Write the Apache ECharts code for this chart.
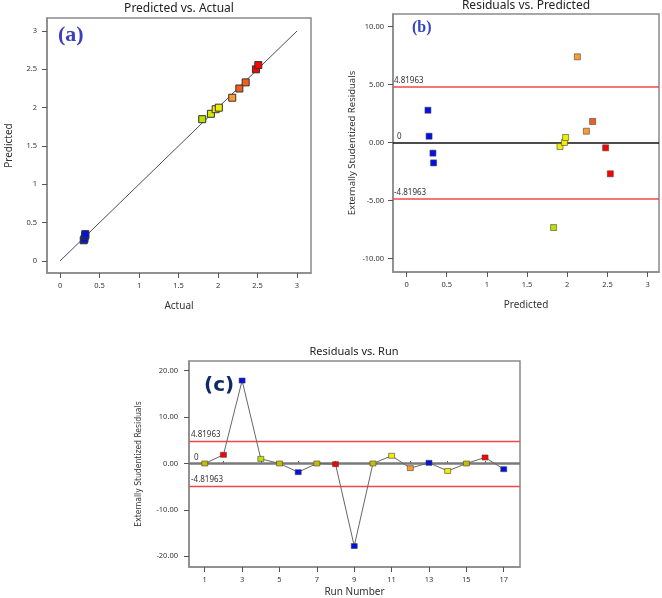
<!DOCTYPE html>
<html>
<head>
<meta charset="utf-8">
<script src="https://cdn.jsdelivr.net/npm/echarts@6/dist/echarts.min.js"></script>
<style>
html,body{margin:0;padding:0;background:#fff;}
#chart{width:662px;height:598px;}
</style>
</head>
<body>
<div id="chart"></div>
<script>
// ---------- DATA ----------
// Panel (a): Predicted vs. Actual
const aActual    = [0.30, 0.31, 0.32, 0.32, 1.80, 1.91, 1.97, 2.01, 2.18, 2.27, 2.35, 2.48, 2.51];
const aPredicted = [0.27, 0.29, 0.33, 0.35, 1.85, 1.92, 1.98, 2.00, 2.13, 2.25, 2.33, 2.50, 2.556];
const aGroup     = [0, 0, 0, 0, 1, 2, 3, 3, 4, 5, 5, 6, 6];
const diagLine   = [[0, 0], [3, 3]];
const aTicks     = [0, 0.5, 1, 1.5, 2, 2.5, 3];

// Panel (b): Residuals vs. Predicted
const bPredicted = [0.266, 0.28, 0.328, 0.336, 1.83, 1.91, 1.965, 1.98, 2.126, 2.238, 2.316, 2.478, 2.536];
const bResidual  = [2.78, 0.54, -0.92, -1.76, -7.33, -0.35, 0.0, 0.43, 7.38, 0.97, 1.81, -0.46, -2.70];
const bGroup     = [0, 0, 0, 0, 1, 3, 3, 3, 4, 4, 5, 6, 6];
const bXTicks    = [0, 0.5, 1, 1.5, 2, 2.5, 3];
const bYTicks    = [-10, -5, 0, 5, 10];

// Panel (c): Residuals vs. Run
const cRun       = [1, 2, 3, 4, 5, 6, 7, 8, 9, 10, 11, 12, 13, 14, 15, 16, 17];
const cResidual  = [0, 1.87, 17.88, 1.0, 0, -1.87, 0, -0.15, -17.8, 0, 1.66, -1.0, 0.14, -1.6, 0, 1.3, -1.23];
const cGroup     = [7, 6, 0, 1, 7, 0, 7, 6, 0, 7, 3, 4, 0, 3, 7, 6, 0];
const cXLabels   = [1, 3, 5, 7, 9, 11, 13, 15, 17];
const cXMinor    = [2, 4, 6, 8, 10, 12, 14, 16];
const cYTicks    = [-20, -10, 0, 10, 20];

const limitValue = 4.81963;
const limitLabels = ['4.81963', '-4.81963', '0'];

const titles = ['Predicted vs. Actual', 'Residuals vs. Predicted', 'Residuals vs. Run'];
const panelTags = ['(a)', '(b)', '(c)'];
const axisNames = {
  aX: 'Actual', aY: 'Predicted',
  bX: 'Predicted', bY: 'Externally Studentized Residuals',
  cX: 'Run Number', cY: 'Externally Studentized Residuals'
};

// ---------- STYLE ----------
const palette = ['#0010e8', '#b8e000', '#d4e400', '#f0ee00', '#ff9a30', '#f0601a', '#ff0000', '#c8bc00'];
const FONT = '"Noto Sans", "Open Sans", sans-serif';
const frame = '#8a8a8a';

function vAxisCommon(extra) {
  return Object.assign({
    type: 'value',
    axisLine: { show: true, onZero: false, lineStyle: { color: frame, width: 1.5 } },
    axisTick: { show: true, length: 5, lineStyle: { color: '#555', width: 1 } },
    axisLabel: { fontSize: 7.5, color: '#333', fontFamily: FONT },
    splitLine: { show: false },
    nameLocation: 'middle',
    nameTextStyle: { fontSize: 10, color: '#333', fontFamily: FONT }
  }, extra);
}

function colorBy(groups) {
  return function (p) { return palette[groups[p.dataIndex]]; };
}

const option = {
  backgroundColor: '#fff',
  animation: false,
  title: [
    { text: titles[0], left: 179, top: 3, textAlign: 'center', padding: 0,
      textStyle: { fontSize: 12, fontWeight: 'normal', color: '#222', fontFamily: FONT } },
    { text: titles[1], left: 526, top: 0, textAlign: 'center', padding: 0,
      textStyle: { fontSize: 12, fontWeight: 'normal', color: '#222', fontFamily: FONT } },
    { text: titles[2], left: 354, top: 346, textAlign: 'center', padding: 0,
      textStyle: { fontSize: 11, fontWeight: 'normal', color: '#222', fontFamily: FONT } },
    { text: panelTags[0], left: 58, top: 24, padding: 0,
      textStyle: { fontSize: 22, fontWeight: 'bold', color: '#3c3fbe', fontFamily: '"Liberation Serif", "DejaVu Serif", serif' } },
    { text: panelTags[1], left: 412, top: 20, padding: 0,
      textStyle: { fontSize: 16, fontWeight: 'bold', color: '#3444c4', fontFamily: '"Liberation Serif", "DejaVu Serif", serif' } },
    { text: panelTags[2], left: 204, top: 376, padding: 0,
      textStyle: { fontSize: 20, fontWeight: 'bold', color: '#0f2a66', fontFamily: '"DejaVu Sans", sans-serif' } }
  ],
  grid: [
    { left: 47, top: 18, width: 264, height: 255, show: true, borderColor: frame, borderWidth: 1.5, backgroundColor: '#fff', containLabel: false },
    { left: 393, top: 14, width: 266, height: 258, show: true, borderColor: frame, borderWidth: 1.5, backgroundColor: '#fff', containLabel: false },
    { left: 189, top: 361, width: 331, height: 206, show: true, borderColor: frame, borderWidth: 1.5, backgroundColor: '#fff', containLabel: false }
  ],
  xAxis: [
    vAxisCommon({ gridIndex: 0, min: -0.165, max: 3.177,
      axisLabel: { customValues: aTicks, fontSize: 7.5, color: '#333', margin: 9, fontFamily: FONT },
      axisTick: { customValues: aTicks, length: 5, lineStyle: { color: '#555' } },
      name: axisNames.aX, nameGap: 28 }),
    vAxisCommon({ gridIndex: 1, min: -0.169, max: 3.142,
      axisLabel: { customValues: bXTicks, fontSize: 7.5, color: '#333', margin: 9, fontFamily: FONT },
      axisTick: { customValues: bXTicks, length: 5, lineStyle: { color: '#555' } },
      name: axisNames.bX, nameGap: 28 }),
    vAxisCommon({ gridIndex: 2, min: 0.158, max: 17.87,
      axisLabel: { customValues: cXLabels, fontSize: 7.5, color: '#333', margin: 9, fontFamily: FONT },
      axisTick: { customValues: cXLabels, length: 5, lineStyle: { color: '#555' } },
      name: axisNames.cX, nameGap: 20 }),
    vAxisCommon({ gridIndex: 2, min: 0.158, max: 17.87,
      axisLine: { show: false },
      axisLabel: { show: false },
      axisTick: { customValues: cXMinor, length: 2.5, lineStyle: { color: '#555' } } })
  ],
  yAxis: [
    vAxisCommon({ gridIndex: 0, min: -0.157, max: 3.17,
      axisLabel: { customValues: aTicks, fontSize: 7.5, color: '#333', margin: 10, fontFamily: FONT },
      axisTick: { customValues: aTicks, length: 5, lineStyle: { color: '#555' } },
      name: axisNames.aY, nameGap: 33 }),
    vAxisCommon({ gridIndex: 1, min: -11.16, max: 11.07,
      axisLabel: { customValues: bYTicks, fontSize: 7.5, color: '#333', margin: 9, fontFamily: FONT,
        formatter: function (v) { return v.toFixed(2); } },
      axisTick: { customValues: bYTicks, length: 5, lineStyle: { color: '#555' } },
      name: axisNames.bY, nameGap: 36, nameTextStyle: { fontSize: 9.5, color: '#333', fontFamily: FONT } }),
    vAxisCommon({ gridIndex: 2, min: -22.31, max: 22.09,
      axisLabel: { customValues: cYTicks, fontSize: 7.5, color: '#333', margin: 11, fontFamily: FONT,
        formatter: function (v) { return v.toFixed(2); } },
      axisTick: { customValues: cYTicks, length: 5, lineStyle: { color: '#555' } },
      name: axisNames.cY, nameGap: 46,
      nameTextStyle: { fontSize: 8.5, color: '#333', fontFamily: '"DejaVu Sans Condensed", "Liberation Sans Narrow", "Noto Sans", sans-serif' } })
  ],
  series: [
    // (a) diagonal
    { type: 'line', xAxisIndex: 0, yAxisIndex: 0, data: diagLine, symbol: 'none',
      lineStyle: { color: '#4a4a6a', width: 1 }, z: 2 },
    // (a) points
    { type: 'scatter', xAxisIndex: 0, yAxisIndex: 0,
      data: aActual.map(function (v, i) { return [v, aPredicted[i]]; }),
      symbol: 'rect', symbolSize: 7,
      itemStyle: { color: colorBy(aGroup), borderColor: '#333', borderWidth: 1, opacity: 1 }, z: 5 },
    // (b) points + reference lines
    { type: 'scatter', xAxisIndex: 1, yAxisIndex: 1,
      data: bPredicted.map(function (v, i) { return [v, bResidual[i]]; }),
      symbol: 'rect', symbolSize: 6,
      itemStyle: { color: colorBy(bGroup), borderColor: '#444', borderWidth: 0.6, opacity: 1 }, z: 5,
      markLine: {
        silent: true, symbol: 'none', animation: false,
        data: [
          { yAxis: limitValue, lineStyle: { color: '#f04848', width: 1.5, type: 'solid' },
            label: { formatter: limitLabels[0] } },
          { yAxis: -limitValue, lineStyle: { color: '#f04848', width: 1.5, type: 'solid' },
            label: { formatter: limitLabels[1] } },
          { yAxis: 0, lineStyle: { color: '#111', width: 1.5, type: 'solid' },
            label: { formatter: limitLabels[2], padding: [0, 0, 0, 3] } }
        ],
        label: { show: true, position: 'insideStartTop', distance: [1, 2], fontSize: 8, color: '#333', fontFamily: FONT }
      } },
    // (c) line + points + reference lines
    { type: 'line', xAxisIndex: 2, yAxisIndex: 2,
      data: cRun.map(function (r, i) { return [r, cResidual[i]]; }),
      symbol: 'rect', symbolSize: [6, 5], showAllSymbol: true,
      lineStyle: { color: '#666', width: 1 },
      itemStyle: { color: colorBy(cGroup), borderColor: '#444', borderWidth: 0.6, opacity: 1 }, z: 5,
      markLine: {
        silent: true, symbol: 'none', animation: false,
        data: [
          { yAxis: limitValue, lineStyle: { color: '#f04848', width: 1.3, type: 'solid' },
            label: { formatter: limitLabels[0] } },
          { yAxis: -limitValue, lineStyle: { color: '#f04848', width: 1.3, type: 'solid' },
            label: { formatter: limitLabels[1] } },
          { yAxis: 0, lineStyle: { color: '#7a7a7a', width: 2.5, type: 'solid' },
            label: { formatter: limitLabels[2], padding: [0, 0, 0, 3] } }
        ],
        label: { show: true, position: 'insideStartTop', distance: [2, 2], fontSize: 8, color: '#333', fontFamily: FONT }
      } }
  ]
};

const chart = echarts.init(document.getElementById('chart'));
chart.setOption(option);
</script>
</body>
</html>
